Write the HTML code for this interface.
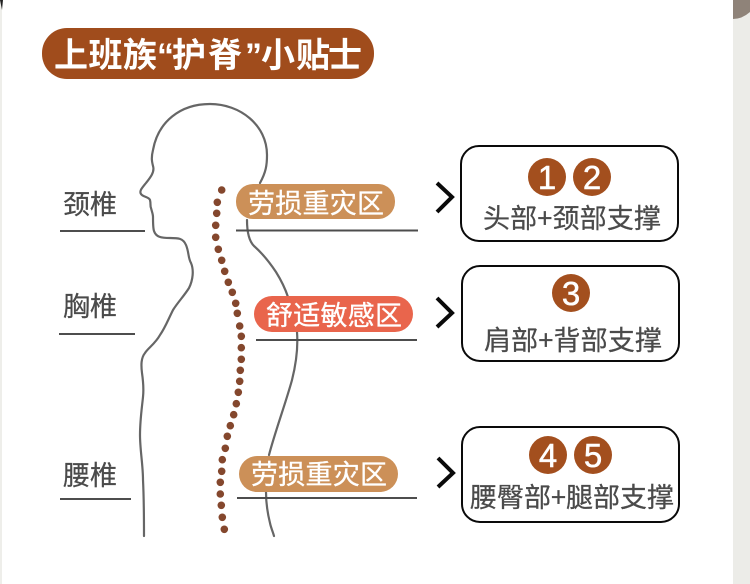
<!DOCTYPE html>
<html><head><meta charset="utf-8"><style>
html,body{margin:0;padding:0;background:#fff}
svg{display:block}
text{font-family:"Noto Sans CJK SC","Liberation Sans",sans-serif}
.g{fill:#4a4a4a;font-size:27px;stroke:#4a4a4a;stroke-width:.25px}
.w{fill:#fff;font-size:27px;stroke:#fff;stroke-width:.3px}
.n{fill:#fff;font-size:33px;font-family:"Liberation Sans",sans-serif;text-anchor:middle;stroke:#fff;stroke-width:.5px}
.q{font-family:"Liberation Sans",sans-serif}
</style></head><body>
<svg width="750" height="584" viewBox="0 0 750 584" xmlns="http://www.w3.org/2000/svg">
<rect width="750" height="584" fill="#fff"/>
<rect x="733" width="17" height="584" fill="#ecece8"/>
<path d="M733 0H750V12Q742 19 733 19Z" fill="#8f8379"/>
<rect width="2" height="584" fill="#eeeeea"/>
<path d="M0 0H3L2 10Z" fill="#222"/>
<rect x="42" y="28" width="332" height="51" rx="25" fill="#a04c1c"/>
<text y="67" font-size="34" font-weight="700" fill="#fff"><tspan x="54">上</tspan><tspan x="88.500">班</tspan><tspan x="123">族</tspan><tspan x="157" class="q">“</tspan><tspan x="172">护</tspan><tspan x="208">脊</tspan><tspan x="245" class="q">”</tspan><tspan x="261">小</tspan><tspan x="296">贴</tspan><tspan x="328">士</tspan></text>
<g fill="none" stroke="#666" stroke-width="2.2" stroke-linecap="round" stroke-linejoin="round">
<path d="M260 183C266 172 267 165 267 155C267 125 240 104 210 104C180 104 158 122 153 150C151 158 152 162 153 166C155 172 150 178 146 183C142 188 139 191 141 194C143 197 149 197 150 200C151 204 150 206 151 208C152 212 153 214 153 217C153 222 153 228 154 231C156 237 161 238 170 238C178 238 183 238 186 245C189 252 188 258 191 263C194 270 193 280 189 288C184 296 178 302 173 310C168 320 165 328 160 335C155 344 148 348 145 353C141 358 141 365 142 373C143 380 144 388 143 397C142 407 140 420 140 435C140 450 143 465 143 480C144 500 144 520 144 536"/>
<path d="M247 220C247 232 249 241 254 246C262 253 270 263 276 272C281 280 285 288 288 297"/>
<path d="M297 332C298 345 297 360 292 380C286 402 275 432 269 455"/>
<path d="M266 492C266 505 268 515 270 523C271 528 273 532 274 536"/>
</g>
<g fill="#84472d">
<circle cx="221.7" cy="190" r="3.8"/><circle cx="217.3" cy="202.3" r="3.8"/><circle cx="216.7" cy="213.3" r="3.8"/><circle cx="215.7" cy="225.3" r="3.8"/><circle cx="215.7" cy="237.3" r="3.8"/><circle cx="218.3" cy="249.3" r="3.8"/><circle cx="221.7" cy="260.3" r="3.8"/><circle cx="224.7" cy="271.3" r="3.8"/><circle cx="228.3" cy="282.3" r="3.8"/><circle cx="232.3" cy="292.3" r="3.8"/><circle cx="235.7" cy="303.3" r="3.8"/>
<circle cx="237.3" cy="313.3" r="3.8"/><circle cx="239.7" cy="326" r="3.8"/><circle cx="241.3" cy="336.3" r="3.8"/><circle cx="241.3" cy="347.7" r="3.8"/><circle cx="241.3" cy="359.3" r="3.8"/><circle cx="240.3" cy="370.3" r="3.8"/><circle cx="239.7" cy="381.3" r="3.8"/><circle cx="238.3" cy="392.3" r="3.8"/><circle cx="236.3" cy="403.7" r="3.8"/><circle cx="233.7" cy="414.7" r="3.8"/><circle cx="230.3" cy="425.7" r="3.8"/><circle cx="227.3" cy="436.3" r="3.8"/><circle cx="225.3" cy="448.3" r="3.8"/><circle cx="222.3" cy="459.7" r="3.8"/><circle cx="221.7" cy="471.3" r="3.8"/><circle cx="220.3" cy="482.3" r="3.8"/><circle cx="220.3" cy="494" r="3.8"/><circle cx="221.3" cy="505.3" r="3.8"/><circle cx="222.3" cy="517.3" r="3.8"/><circle cx="224.3" cy="529.3" r="3.8"/>
</g>
<g stroke="#4d4d4d" stroke-width="2">
<path d="M60 231H145M59 334H135M60 499H131M236 230.500H418M256 340H417M237 498H417"/>
</g>
<rect x="236" y="184" width="159" height="35" rx="17" fill="#cc9058"/>
<rect x="254" y="296" width="159" height="36" rx="18" fill="#e9654c"/>
<rect x="239" y="456" width="159" height="36" rx="18" fill="#cc9058"/>
<text class="w" x="248" y="213" textLength="136">劳损重灾区</text>
<text class="w" x="266" y="325" textLength="136">舒适敏感区</text>
<text class="w" x="251" y="484" textLength="136">劳损重灾区</text>
<text class="g" x="63" y="214">颈椎</text>
<text class="g" x="63" y="316">胸椎</text>
<text class="g" x="63" y="485">腰椎</text>
<g fill="#fff" stroke="#0a0a0a" stroke-width="2">
<rect x="461" y="146" width="217" height="95" rx="18"/>
<rect x="462" y="266" width="217" height="95" rx="18"/>
<rect x="462" y="427" width="217" height="95" rx="18"/>
</g>
<g fill="none" stroke="#0a0a0a" stroke-width="4">
<path d="M437 183L452 197L437 212M437 298L452 313L437 327M438 458L453 473L438 487"/>
</g>
<g fill="#a34f1e">
<circle cx="547" cy="177" r="19"/><circle cx="592" cy="177" r="19"/><circle cx="571" cy="293" r="19"/><circle cx="548" cy="455" r="19"/><circle cx="593" cy="455" r="19"/>
</g>
<text class="n" x="547" y="189">1</text><text class="n" x="592" y="189">2</text><text class="n" x="571" y="305">3</text><text class="n" x="548" y="467">4</text><text class="n" x="593" y="467">5</text>
<text class="g" x="483" y="228" textLength="178">头部+颈部支撑</text>
<text class="g" x="484" y="350" textLength="178">肩部+背部支撑</text>
<text class="g" x="470" y="507" textLength="204">腰臀部+腿部支撑</text>
</svg>
</body></html>
